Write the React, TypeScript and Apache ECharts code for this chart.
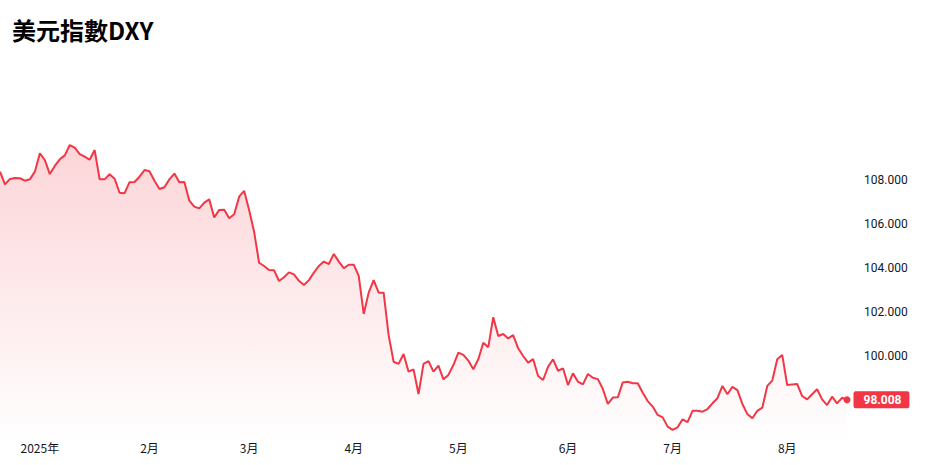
import React, { useEffect, useRef } from "react";
import * as echarts from "echarts";

const TITLE = "美元指數DXY";

// Daily DXY closes (trading days)
const dxyValues: number[] = [
  108.38, 107.8, 108.05, 108.09, 108.08, 107.97, 108.03, 108.38, 109.21, 108.91,
  108.27, 108.64, 108.94, 109.12, 109.59, 109.47, 109.18, 109.06, 108.92, 109.36,
  108.03, 108.03, 108.26, 108.06, 107.42, 107.4, 107.9, 107.91, 108.15, 108.45,
  108.4, 107.97, 107.59, 107.67, 108.03, 108.29, 107.9, 107.91, 107.06, 106.79,
  106.71, 106.97, 107.12, 106.3, 106.64, 106.65, 106.26, 106.44, 107.24, 107.51,
  106.64, 105.65, 104.24, 104.09, 103.91, 103.9, 103.41, 103.58, 103.8, 103.71,
  103.42, 103.23, 103.45, 103.79, 104.09, 104.29, 104.18, 104.64, 104.29, 103.99,
  104.15, 104.15, 103.64, 101.91, 102.88, 103.45, 102.88, 102.88, 100.95, 99.74,
  99.64, 100.09, 99.29, 99.39, 98.27, 99.64, 99.77, 99.29, 99.56, 98.94,
  99.14, 99.59, 100.15, 100.05, 99.79, 99.4, 99.85, 100.6, 100.4, 101.76,
  100.91, 101.0, 100.8, 100.95, 100.35, 100.0, 99.7, 99.86, 99.09, 98.91,
  99.51, 99.85, 99.33, 99.44, 98.68, 99.21, 98.83, 98.71, 99.18, 99.01,
  98.95, 98.5, 97.82, 98.11, 98.12, 98.8, 98.83, 98.76, 98.76, 98.33,
  97.95, 97.7, 97.32, 97.21, 96.79, 96.64, 96.76, 97.12, 96.99, 97.51,
  97.51, 97.47, 97.59, 97.85, 98.08, 98.64, 98.26, 98.6, 98.45, 97.82,
  97.36, 97.17, 97.51, 97.65, 98.64, 98.88, 99.85, 100.05, 98.68, 98.71,
  98.73, 98.18, 98.03, 98.26, 98.49, 98.03, 97.77, 98.15, 97.85, 98.1,
  98.008,
];

// Index of the first trading day of each month, with its axis label
const monthTickIndex: number[] = [8, 30, 50, 71, 92, 114, 135, 158];
const monthTickLabel: string[] = ["2025年", "2月", "3月", "4月", "5月", "6月", "7月", "8月"];

// Y-axis range and tick labels shown
const yMin = 96;
const yMax = 110;
const yStep = 2;
const yShownLabels: number[] = [100, 102, 104, 106, 108];

const LINE_COLOR = "#F23645";
const TEXT_COLOR = "#131722";

export default function App() {
  const ref = useRef<HTMLDivElement>(null);

  useEffect(() => {
    if (!ref.current) return;
    const chart = echarts.init(ref.current, undefined, { renderer: "svg" });
    const categories = dxyValues.map((_, i) => String(i));
    const lastIdx = dxyValues.length - 1;
    const lastVal = dxyValues[lastIdx];

    chart.setOption({
      animation: false,
      backgroundColor: "#ffffff",
      title: {
        text: TITLE,
        left: 7,
        top: 12,
        textStyle: {
          fontFamily: "'Noto Sans CJK TC', 'Noto Sans', sans-serif",
          fontSize: 24,
          fontWeight: "bold",
          color: "#000000",
        },
      },
      grid: { left: 0, right: 82, top: 136, bottom: 21, containLabel: false },
      xAxis: {
        type: "category",
        data: categories,
        boundaryGap: false,
        axisLine: { show: false },
        axisTick: { show: false },
        splitLine: { show: false },
        axisLabel: {
          interval: (index: number) => monthTickIndex.indexOf(index) >= 0,
          formatter: (value: string) => {
            const k = monthTickIndex.indexOf(Number(value));
            return k >= 0 ? monthTickLabel[k] : "";
          },
          margin: 3,
          verticalAlign: "middle",
          color: TEXT_COLOR,
          fontSize: 12,
          fontFamily: "'Noto Sans CJK TC', Roboto, sans-serif",
        },
      },
      yAxis: {
        type: "value",
        position: "right",
        min: yMin,
        max: yMax,
        interval: yStep,
        axisLine: { show: false },
        axisTick: { show: false },
        splitLine: { show: false },
        axisLabel: {
          margin: 17,
          align: "left",
          color: TEXT_COLOR,
          fontSize: 12,
          fontFamily: "Roboto, 'Noto Sans', sans-serif",
          formatter: (v: number) =>
            yShownLabels.indexOf(Math.round(v)) >= 0 ? v.toFixed(3) : "",
        },
      },
      series: [
        {
          type: "line",
          data: dxyValues,
          showSymbol: false,
          symbol: "none",
          lineStyle: { color: LINE_COLOR, width: 2 },
          itemStyle: { color: LINE_COLOR },
          areaStyle: {
            origin: "start",
            color: new echarts.graphic.LinearGradient(0, 0, 0, 1, [
              { offset: 0, color: "rgba(242,54,69,0.30)" },
              { offset: 1, color: "rgba(242,54,69,0.0)" },
            ]),
          },
          markPoint: {
            silent: true,
            data: [
              {
                coord: [String(lastIdx), lastVal],
                symbol: "circle",
                symbolSize: 7,
                itemStyle: { color: LINE_COLOR },
                label: {
                  show: true,
                  position: "right",
                  distance: 3,
                  formatter: lastVal.toFixed(3),
                  color: "#ffffff",
                  backgroundColor: LINE_COLOR,
                  borderRadius: 2,
                  padding: [3, 8, 2, 10],
                  fontSize: 12,
                  fontWeight: "bold",
                  fontFamily: "Roboto, 'Noto Sans', sans-serif",
                },
              },
            ],
          },
        },
      ],
    });

    return () => chart.dispose();
  }, []);

  return (
    <div
      ref={ref}
      style={{ position: "fixed", left: 0, top: 0, width: 929, height: 465 }}
    />
  );
}
